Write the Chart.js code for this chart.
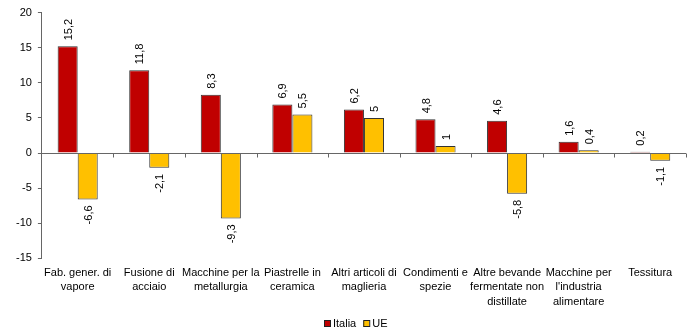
<!DOCTYPE html>
<html>
<head>
<meta charset="utf-8">
<script src="https://cdn.jsdelivr.net/npm/chart.js@4"></script>
<style>
  html, body { margin: 0; padding: 0; background: #fff; }
  #wrap { width: 700px; height: 334px; }
</style>
</head>
<body>
<div id="wrap"><canvas id="chart" width="700" height="334"></canvas></div>
<script>
// categories and series
const categories = [
    ["Fab. gener. di", "vapore"],
    ["Fusione di", "acciaio"],
    ["Macchine per la", "metallurgia"],
    ["Piastrelle in", "ceramica"],
    ["Altri articoli di", "maglieria"],
    ["Condimenti e", "spezie"],
    ["Altre bevande", "fermentate non", "distillate"],
    ["Macchine per", "l'industria", "alimentare"],
    ["Tessitura"]
];
const italia = [15.2, 11.8, 8.3, 6.9, 6.2, 4.8, 4.6, 1.6, 0.2];
const ue = [-6.6, -2.1, -9.3, 5.5, 5, 1, -5.8, 0.4, -1.1];
const yTicks = [-15, -10, -5, 0, 5, 10, 15, 20];

const FONT = "'Liberation Sans', Arial, sans-serif";
const RED = "#C00000";
const YELLOW = "#FFC000";

// value labels, rotated, italian decimal comma
const valueLabels = {
    id: "valueLabels",
    afterDatasetsDraw(chart) {
        const ctx = chart.ctx;
        ctx.save();
        ctx.font = "11px " + FONT;
        ctx.fillStyle = "#000";
        ctx.textBaseline = "middle";
        chart.data.datasets.forEach((ds, i) => {
            const meta = chart.getDatasetMeta(i);
            meta.data.forEach((bar, j) => {
                const v = ds.data[j];
                const txt = String(v).replace(".", ",");
                ctx.save();
                ctx.translate(bar.x + 1, bar.y);
                ctx.rotate(-Math.PI / 2);
                if (v >= 0) {
                    ctx.textAlign = "left";
                    ctx.fillText(txt, 6, 0);
                } else {
                    ctx.textAlign = "right";
                    ctx.fillText(txt, -6, 0);
                }
                ctx.restore();
            });
        });
        ctx.restore();
    }
};

// zero line with small category ticks
const zeroAxis = {
    id: "zeroAxis",
    afterDatasetsDraw(chart) {
        const ctx = chart.ctx;
        const area = chart.chartArea;
        const y0 = Math.round(chart.scales.y.getPixelForValue(0)) + 0.5;
        const n = categories.length;
        const step = (area.right - area.left) / n;
        ctx.save();
        ctx.strokeStyle = "#666";
        ctx.lineWidth = 1;
        ctx.beginPath();
        ctx.moveTo(area.left, y0);
        ctx.lineTo(area.right, y0);
        for (let k = 1; k <= n; k++) {
            const x = Math.round(area.left + step * k) + 0.5;
            ctx.moveTo(x, y0);
            ctx.lineTo(x, y0 + 4);
        }
        ctx.stroke();
        ctx.restore();
    }
};

// compact legend at the bottom
const bottomLegend = {
    id: "bottomLegend",
    afterDraw(chart) {
        const ctx = chart.ctx;
        const y = 324;
        ctx.save();
        ctx.font = "11px " + FONT;
        ctx.textBaseline = "middle";
        ctx.textAlign = "left";
        let x = 324;
        chart.data.datasets.forEach((ds) => {
            ctx.fillStyle = ds.backgroundColor;
            ctx.fillRect(x, y - 3, 6, 6);
            ctx.strokeStyle = "#222";
            ctx.lineWidth = 1;
            ctx.strokeRect(x + 0.5, y - 3.5, 6, 6);
            ctx.fillStyle = "#000";
            ctx.fillText(ds.label, x + 9, y);
            x += 9 + ctx.measureText(ds.label).width + 7;
        });
        ctx.restore();
    }
};

new Chart(document.getElementById("chart").getContext("2d"), {
    type: "bar",
    data: {
        labels: categories,
        datasets: [
            {
                label: "Italia",
                data: italia,
                backgroundColor: RED,
                borderColor: "#333",
                borderWidth: 1,
                barPercentage: 1,
                categoryPercentage: 0.56
            },
            {
                label: "UE",
                data: ue,
                backgroundColor: YELLOW,
                borderColor: "#333",
                borderWidth: 1,
                barPercentage: 1,
                categoryPercentage: 0.56
            }
        ]
    },
    options: {
        responsive: false,
        animation: false,
        layout: { padding: { top: 0, right: 14, left: 10, bottom: 18 } },
        plugins: {
            tooltip: { enabled: false },
            legend: { display: false }
        },
        scales: {
            x: {
                grid: { display: false, drawTicks: false },
                border: { display: false },
                ticks: {
                    color: "#000",
                    maxRotation: 0,
                    autoSkip: false,
                    padding: 7,
                    font: { family: FONT, size: 11, lineHeight: 1.32 }
                }
            },
            y: {
                min: -15,
                max: 20,
                afterBuildTicks: (axis) => {
                    axis.ticks = yTicks.map((v) => ({ value: v }));
                },
                grid: { drawOnChartArea: false, tickLength: 4, color: "#666" },
                border: { display: true, color: "#666" },
                ticks: {
                    color: "#000",
                    padding: 6,
                    font: { family: FONT, size: 11 }
                }
            }
        }
    },
    plugins: [zeroAxis, valueLabels, bottomLegend]
});
</script>
</body>
</html>
